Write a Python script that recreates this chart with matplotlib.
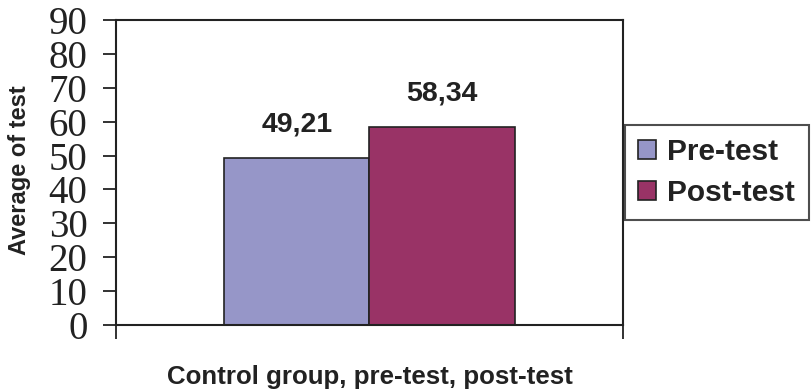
import matplotlib
matplotlib.use("Agg")
import matplotlib.pyplot as plt
import numpy as np

groups = ["Pre-test", "Post-test"]
averages = [49.21, 58.34]
value_labels = ["49,21", "58,34"]
bar_colors = ["#9696C8", "#993366"]
y_ticks = [0, 10, 20, 30, 40, 50, 60, 70, 80, 90]

ink = "#222222"
sans = ["Liberation Sans", "DejaVu Sans"]
serif = ["Liberation Serif", "DejaVu Serif"]

fig = plt.figure(figsize=(8.12, 3.92), dpi=100)
ax = fig.add_axes([116 / 812, 1 - 325 / 392, 507 / 812, 305 / 392])

width = 0.287
x_pos = np.array([-width / 2, width / 2])
bars = ax.bar(x_pos, averages, width=width, color=bar_colors,
              edgecolor=ink, linewidth=1.2, label=groups, zorder=2)

for b, txt in zip(bars, value_labels):
    ax.annotate(txt, (b.get_x() + b.get_width() / 2, b.get_height()),
                xytext=(0, 15), textcoords="offset points",
                ha="center", va="bottom", fontsize=20.5, fontweight="bold",
                family=sans, color=ink)

ax.set_xlim(-0.5, 0.5)
ax.set_ylim(0, 90)
ax.set_yticks(y_ticks)
ax.set_xticks([-0.5, 0.5])
ax.set_xticklabels(["", ""])
ax.tick_params(axis="y", direction="out", length=9.5, width=1.3, color=ink,
               pad=11, labelsize=28, labelcolor=ink)
ax.tick_params(axis="x", direction="out", length=10, width=1.3, color=ink)
for lab in ax.get_yticklabels():
    lab.set_family(serif)

for s in ax.spines.values():
    s.set_color(ink)
    s.set_linewidth(1.5)

ax.set_ylabel("Average of test", fontsize=17, fontweight="bold",
              family=sans, color=ink, va="center")
ax.yaxis.set_label_coords(-0.191, 0.508)
ax.set_xlabel("Control group, pre-test, post-test", fontsize=18.6,
              fontweight="bold", family=sans, color=ink, va="center")
ax.xaxis.set_label_coords(0.5, -0.172)

leg = fig.legend(handles=list(bars), labels=groups, loc="upper left",
                 bbox_to_anchor=(625 / 812, 1 - 125 / 392),
                 prop={"family": sans, "weight": "bold", "size": 21.5},
                 frameon=True, fancybox=False, handlelength=0.6,
                 handleheight=0.6, handletextpad=0.37, labelspacing=0.42,
                 borderpad=0.45, borderaxespad=0)
leg.get_frame().set_edgecolor(ink)
leg.get_frame().set_linewidth(1.5)
for t in leg.get_texts():
    t.set_color(ink)

fig.savefig("out.png", dpi=100)
